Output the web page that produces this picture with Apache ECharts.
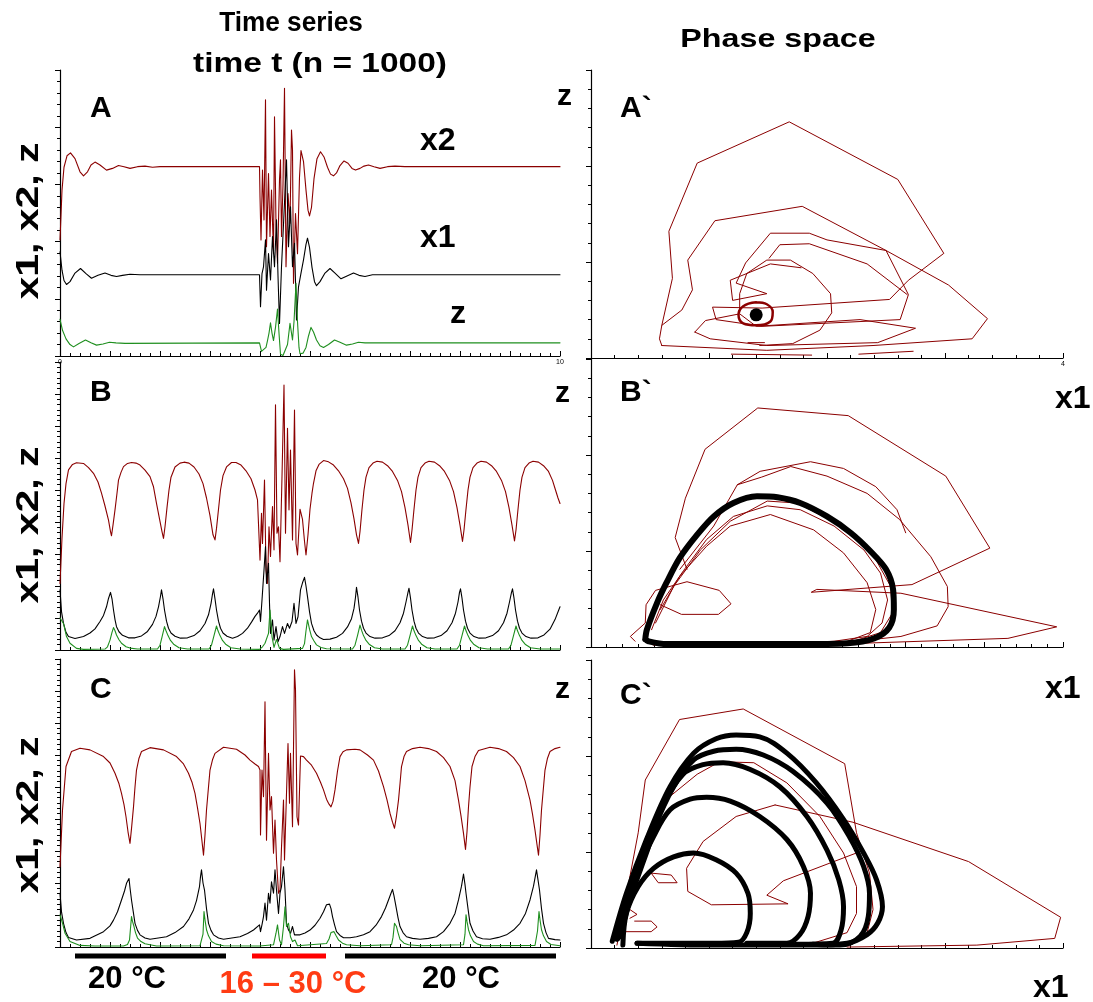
<!DOCTYPE html>
<html><head><meta charset="utf-8">
<script src="https://cdn.jsdelivr.net/npm/echarts/dist/echarts.min.js"></script>
<style>html,body{margin:0;padding:0;background:#fff}#c{width:1093px;height:1002px}</style>
</head><body><div id="c"></div>
<script>
// ---------- Time series (t, value) ----------
const A_x2 = [[0,2.03],[4,2.9],[8,3.3],[14,3.5],[21,3.55],[30,3.45],[40,3.22],[47,3.15],[55,3.22],[62,3.34],[70,3.39],[80,3.34],[93,3.25],[105,3.28],[117,3.33],[128,3.31],[140,3.28],[155,3.31],[170,3.32],[185,3.30],[200,3.31],[399,3.31],
[400,2.79],[402,2.03],[405,3.25],[408,2.38],[411,4.48],[413,1.91],[417,3.19],[420,2.09],[423,2.90],[427,1.79],[429,4.18],[432,2.3],[435,1.62],[439,3.08],[441,3.43],[443,2.09],[446,3.0],[449,4.68],[452,1.56],[456,2.84],[460,2.32],[463,3.95],[465,3.6],[467,1.27],[471,2.49],[475,1.79],[479,3.13],[482,3.59],[487,3.4],[492,2.9],[496,2.55],[499,2.45],[503,2.6],[508,3.1],[514,3.45],[521,3.57],[528,3.48],[535,3.3],[541,3.18],[547,3.15],[553,3.2],[560,3.33],[568,3.41],[576,3.37],[584,3.28],[591,3.25],[600,3.28],[608,3.32],[617,3.34],[628,3.31],[640,3.28],[655,3.31],[670,3.32],[690,3.31],[1000,3.31]];
const A_x1 = [[0,1.82],[4,1.5],[8,1.32],[13,1.25],[20,1.3],[30,1.45],[41,1.53],[52,1.44],[63,1.36],[76,1.41],[90,1.45],[102,1.41],[113,1.39],[125,1.41],[140,1.43],[160,1.42],[399,1.42],
[401,0.86],[404,1.44],[407,1.56],[411,2.03],[413,1.15],[417,1.79],[421,1.33],[425,2.09],[429,1.56],[433,2.38],[436,1.4],[439,0.57],[443,1.56],[448,2.49],[453,3.43],[457,1.91],[461,2.61],[465,1.56],[469,1.97],[473,0.63],[477,1.21],[482,1.45],[487,1.68],[492,1.95],[495,2.06],[499,1.9],[504,1.55],[509,1.3],[513,1.23],[520,1.3],[530,1.45],[540,1.53],[550,1.45],[562,1.35],[574,1.4],[587,1.45],[598,1.41],[610,1.39],[625,1.42],[1000,1.42]];
const A_z = [[0,0.64],[5,0.45],[12,0.3],[20,0.2],[27,0.16],[38,0.22],[51,0.28],[62,0.23],[73,0.19],[86,0.21],[99,0.24],[112,0.23],[130,0.22],[399,0.23],
[403,0.08],[407,0.06],[412,0.15],[415,0.27],[418,0.4],[421,0.58],[424,0.4],[427,0.27],[431,0.5],[435,0.82],[438,0.4],[441,0.03],[446,0.01],[450,0.04],[455,0.2],[460,0.57],[463,0.4],[465,0.28],[468,0.6],[472,1.27],[475,0.6],[478,0.15],[480,0.04],[486,0.05],[492,0.15],[497,0.35],[502,0.5],[507,0.42],[513,0.28],[520,0.18],[527,0.15],[537,0.2],[549,0.28],[560,0.24],[573,0.19],[585,0.21],[597,0.24],[610,0.23],[1000,0.23]];

const B_x2 = [[0,2.08],[4,3.5],[8,4.58],[12,5.2],[17,5.63],[25,5.8],[33,5.85],[47,5.83],[57,5.7],[67,5.52],[76,5.25],[83,4.90],[90,4.5],[97,4.06],[101,3.7],[103,3.57],[106,3.9],[110,4.38],[114,4.9],[117,5.31],[122,5.55],[127,5.73],[135,5.83],[143,5.86],[152,5.84],[160,5.78],[170,5.62],[180,5.42],[187,5.1],[193,4.58],[199,4.1],[204,3.7],[207,3.49],[210,3.85],[214,4.45],[218,5.0],[222,5.4],[230,5.72],[240,5.84],[248,5.87],[258,5.84],[268,5.72],[278,5.5],[286,5.2],[293,4.75],[300,4.2],[306,3.6],[310,3.44],[313,3.8],[317,4.4],[321,5.0],[326,5.45],[333,5.72],[343,5.86],[352,5.86],[362,5.78],[372,5.6],[382,5.35],[390,5.0],[395,4.69],
[400,2.81],[403,4.27],[405,3.33],[409,5.31],[412,2.5],[415,2.08],[418,3.85],[421,2.92],[425,4.48],[428,3.13],[431,7.66],[434,3.65],[437,3.85],[440,2.76],[444,5.42],[448,8.28],[451,3.65],[455,6.93],[458,4.38],[461,6.25],[465,3.44],[469,7.5],[472,3.33],[475,2.97],[480,4.40],[485,4.08],[489,3.4],[492,2.97],[496,3.6],[500,4.4],[504,4.9],[507,5.21],[512,5.6],[518,5.8],[527,5.92],[537,5.88],[547,5.78],[557,5.6],[567,5.35],[575,5.05],[582,4.6],[588,4.1],[593,3.6],[597,3.33],[600,3.7],[604,4.4],[608,5.0],[612,5.4],[618,5.7],[626,5.84],[634,5.9],[645,5.87],[655,5.76],[665,5.58],[675,5.3],[683,4.95],[690,4.45],[696,3.9],[701,3.36],[704,3.75],[708,4.4],[712,5.0],[716,5.4],[722,5.7],[730,5.84],[738,5.9],[749,5.87],[759,5.76],[769,5.58],[779,5.3],[787,4.95],[794,4.45],[800,3.9],[805,3.39],[808,3.75],[812,4.4],[816,5.0],[820,5.4],[826,5.7],[834,5.84],[842,5.9],[853,5.87],[863,5.76],[873,5.58],[883,5.3],[891,4.95],[898,4.45],[904,3.9],[909,3.41],[912,3.75],[916,4.4],[920,5.0],[924,5.4],[930,5.7],[938,5.84],[946,5.9],[957,5.87],[967,5.76],[977,5.58],[985,5.3],[991,5.0],[996,4.75],[1000,4.58]];
const B_x1 = [[0,1.88],[3,1.2],[7,0.83],[12,0.55],[17,0.42],[30,0.36],[47,0.42],[60,0.53],[70,0.66],[80,0.89],[87,1.08],[93,1.35],[97,1.61],[101,1.80],[104,1.6],[107,1.25],[110,0.95],[113,0.73],[118,0.57],[125,0.46],[137,0.38],[150,0.38],[163,0.44],[175,0.58],[185,0.8],[192,1.05],[197,1.35],[201,1.68],[203,1.88],[206,1.6],[209,1.25],[213,0.9],[217,0.68],[222,0.53],[230,0.43],[241,0.37],[255,0.38],[268,0.45],[280,0.6],[290,0.83],[297,1.1],[302,1.45],[305,1.75],[307,1.91],[310,1.6],[313,1.25],[317,0.9],[321,0.68],[326,0.53],[334,0.43],[345,0.37],[355,0.42],[365,0.52],[375,0.68],[383,0.87],[390,1.05],[395,1.15],[399,1.25],
[401,0.89],[404,1.56],[408,2.5],[411,3.23],[413,2.08],[417,2.71],[419,1.46],[421,0.52],[425,0.94],[428,0.31],[432,0.73],[436,0.26],[440,0.42],[445,0.73],[449,0.52],[455,0.83],[459,0.68],[464,0.89],[468,1.46],[472,0.83],[476,1.04],[481,1.88],[485,2.1],[489,2.27],[492,2.0],[495,1.67],[499,1.2],[503,0.83],[508,0.6],[513,0.47],[520,0.38],[527,0.33],[540,0.34],[553,0.4],[565,0.52],[575,0.72],[583,0.98],[588,1.3],[591,1.65],[593,1.96],[596,1.65],[599,1.25],[603,0.9],[607,0.68],[612,0.53],[620,0.42],[630,0.37],[645,0.38],[658,0.45],[670,0.6],[680,0.85],[687,1.15],[692,1.5],[696,1.8],[698,1.93],[701,1.62],[704,1.25],[708,0.9],[712,0.68],[717,0.53],[725,0.42],[735,0.37],[749,0.38],[762,0.45],[774,0.6],[784,0.85],[791,1.15],[796,1.5],[799,1.8],[801,1.91],[804,1.62],[807,1.25],[811,0.9],[815,0.68],[820,0.53],[828,0.42],[838,0.37],[852,0.38],[865,0.45],[877,0.6],[887,0.85],[894,1.15],[899,1.5],[903,1.8],[905,1.91],[908,1.62],[911,1.25],[915,0.9],[919,0.68],[924,0.53],[932,0.42],[942,0.37],[956,0.38],[968,0.47],[980,0.65],[990,0.95],[1000,1.35]];
const B_z = [[0,1.0],[2,0.99],[7,0.83],[13,0.42],[20,0.21],[33,0.05],[47,0.02],[90,0.03],[95,0.1],[100,0.31],[104,0.55],[107,0.70],[110,0.6],[113,0.47],[118,0.32],[123,0.21],[132,0.1],[140,0.06],[155,0.03],[195,0.03],[200,0.15],[204,0.4],[209,0.73],[212,0.6],[216,0.45],[221,0.3],[228,0.17],[238,0.07],[255,0.03],[298,0.03],[303,0.15],[308,0.45],[313,0.75],[316,0.6],[320,0.45],[325,0.3],[332,0.17],[342,0.07],[360,0.03],[399,0.02],
[405,0.1],[410,0.21],[417,0.52],[420,1.25],[424,0.42],[428,0.08],[433,0.33],[439,0.05],[447,0.02],[485,0.05],[489,0.2],[492,0.6],[495,0.94],[499,0.65],[503,0.42],[508,0.28],[513,0.16],[522,0.08],[533,0.04],[585,0.03],[590,0.15],[595,0.45],[600,0.78],[603,0.62],[607,0.45],[612,0.3],[619,0.17],[629,0.07],[645,0.03],[690,0.03],[695,0.15],[700,0.45],[705,0.75],[708,0.6],[712,0.45],[717,0.3],[724,0.17],[734,0.07],[750,0.03],[794,0.03],[799,0.15],[804,0.45],[809,0.75],[812,0.6],[816,0.45],[821,0.3],[828,0.17],[838,0.07],[855,0.03],[897,0.03],[902,0.15],[907,0.45],[912,0.75],[915,0.6],[919,0.45],[924,0.3],[931,0.17],[941,0.07],[960,0.03],[1000,0.03]];

const C_x2 = [[0,2.51],[5,4.28],[12,5.64],[23,6.11],[40,6.21],[60,6.16],[87,5.95],[100,5.75],[110,5.43],[118,5.1],[123,4.80],[128,4.45],[132,4.07],[136,3.6],[140,3.24],[143,3.7],[147,4.38],[150,5.0],[153,5.53],[158,5.9],[163,6.11],[180,6.23],[207,6.16],[233,5.95],[247,5.72],[257,5.43],[264,5.15],[270,4.80],[275,4.35],[280,3.86],[284,3.3],[287,2.87],[290,3.5],[293,4.28],[297,5.0],[300,5.53],[305,5.85],[310,6.05],[327,6.24],[353,6.18],[370,6.0],[380,5.84],[390,5.72],[397,5.64],
[400,5.53],[401,3.5],[404,5.53],[407,4.7],[410,7.66],[413,3.34],[417,6.05],[420,4.28],[423,4.70],[427,2.93],[430,3.97],[433,2.72],[437,1.68],[440,1.78],[443,3.12],[447,4.59],[449,2.72],[453,4.80],[456,6.36],[459,4.49],[461,6.05],[465,3.76],[469,8.66],[471,8.03],[474,4.07],[477,3.81],[481,5.97],[487,5.95],[493,5.84],[503,5.68],[513,5.43],[521,5.15],[527,4.91],[533,4.62],[537,4.49],[542,4.38],[546,4.55],[550,4.91],[555,5.5],[560,5.95],[566,6.1],[573,6.16],[590,6.18],[600,6.16],[615,6.0],[627,5.84],[637,5.5],[647,5.01],[654,4.6],[660,4.18],[665,3.9],[669,3.71],[673,4.1],[677,4.59],[680,5.1],[683,5.64],[688,5.95],[693,6.11],[705,6.2],[720,6.24],[737,6.2],[753,6.11],[767,5.92],[780,5.64],[790,5.2],[797,4.59],[802,4.1],[807,3.55],[811,3.05],[814,3.6],[817,4.38],[820,5.0],[824,5.64],[830,5.95],[837,6.14],[860,6.24],[877,6.2],[893,6.11],[907,5.92],[920,5.64],[930,5.2],[940,4.59],[945,4.15],[950,3.65],[954,3.2],[957,2.87],[960,3.5],[963,4.28],[967,5.0],[970,5.53],[975,5.9],[980,6.11],[990,6.2],[1000,6.24]];
const C_x1 = [[0,1.68],[3,1.1],[7,0.74],[12,0.45],[17,0.30],[33,0.22],[60,0.27],[87,0.48],[100,0.66],[107,0.84],[115,1.1],[123,1.47],[129,1.75],[133,1.99],[138,2.14],[140,1.85],[143,1.47],[147,1.05],[150,0.74],[155,0.52],[160,0.38],[170,0.28],[180,0.24],[213,0.32],[230,0.45],[247,0.64],[258,0.88],[267,1.16],[273,1.45],[279,1.89],[281,2.2],[283,2.41],[286,2.0],[289,1.78],[293,1.2],[297,0.74],[302,0.52],[307,0.38],[317,0.28],[327,0.24],[360,0.32],[375,0.42],[387,0.53],[399,0.69],
[401,0.48],[404,0.7],[407,0.95],[410,1.37],[413,0.84],[417,1.68],[420,1.37],[423,2.04],[427,1.68],[430,2.41],[433,1.78],[437,1.05],[440,1.68],[443,1.89],[447,2.51],[450,1.78],[453,0.74],[457,0.53],[461,0.43],[465,0.64],[469,0.38],[473,0.32],[480,0.38],[490,0.44],[500,0.53],[510,0.68],[520,0.90],[527,1.1],[533,1.32],[539,1.34],[542,1.2],[545,0.95],[549,0.7],[553,0.48],[560,0.36],[567,0.29],[580,0.29],[593,0.32],[607,0.38],[620,0.48],[632,0.68],[643,0.95],[651,1.22],[657,1.47],[662,1.68],[665,1.80],[668,1.6],[672,1.26],[676,0.92],[680,0.64],[686,0.45],[693,0.32],[705,0.27],[720,0.24],[737,0.27],[753,0.32],[767,0.48],[780,0.74],[790,1.05],[797,1.47],[803,1.9],[807,2.28],[810,1.95],[812,1.68],[816,1.2],[820,0.74],[826,0.5],[833,0.32],[845,0.26],[860,0.24],[877,0.3],[893,0.38],[907,0.53],[920,0.74],[931,1.05],[940,1.47],[947,1.9],[953,2.41],[956,2.1],[959,1.78],[963,1.2],[967,0.74],[972,0.45],[977,0.27],[990,0.23],[1000,0.22]];
const C_z = [[0,1.0],[2,1.0],[5,0.75],[10,0.43],[20,0.17],[40,0.05],[70,0.03],[127,0.03],[135,0.08],[139,0.22],[143,0.95],[145,0.8],[148,0.64],[151,0.45],[155,0.28],[162,0.17],[170,0.10],[193,0.03],[280,0.04],[283,0.07],[286,0.4],[288,1.11],[290,0.85],[293,0.54],[297,0.35],[303,0.17],[312,0.09],[327,0.04],[399,0.03],
[427,0.07],[432,0.43],[435,0.69],[439,0.22],[443,0.07],[447,0.64],[450,1.26],[453,0.64],[457,0.74],[461,0.32],[465,0.17],[470,0.22],[475,0.04],[533,0.11],[538,0.25],[542,0.45],[548,0.48],[552,0.36],[557,0.22],[565,0.12],[573,0.07],[600,0.04],[663,0.07],[666,0.3],[669,0.74],[673,0.64],[676,0.45],[680,0.24],[688,0.12],[697,0.07],[720,0.04],[807,0.07],[810,0.4],[812,1.01],[814,0.8],[817,0.54],[821,0.35],[827,0.17],[835,0.09],[847,0.04],[950,0.05],[953,0.07],[955,0.5],[958,1.11],[960,0.85],[963,0.54],[967,0.35],[973,0.17],[982,0.08],[1000,0.04]];

// ---------- Phase space (x1, z) ----------
const PA_outer = [[0.60,0.13],[0.58,0.20],[0.60,0.34],[0.69,0.83],[0.66,1.32],[0.90,2.03],[1.68,2.46],[2.60,1.86],[2.99,1.09],[2.69,0.81],[2.53,0.61],[1.45,0.52],[1.03,0.53],[1.06,0.40],[1.45,0.33],[2.62,0.40],[2.69,0.66],[2.50,1.12],[1.79,1.58],[1.05,1.43],[0.82,1.02],[0.86,0.71],[0.77,0.50],[0.60,0.34]];
const PA_second = [[0.60,0.13],[1.49,0.08],[2.39,0.13],[3.23,0.20],[3.36,0.41],[3.03,0.76],[2.50,1.12],[2.00,1.23],[1.85,1.30],[1.52,1.30],[1.31,0.99],[1.23,0.78],[1.49,0.67],[1.20,0.60],[1.18,0.81],[1.52,0.98],[1.78,0.94]];
const PA_low = [[0.88,0.27],[0.97,0.39],[1.26,0.46],[1.40,0.33],[2.28,0.40],[2.75,0.31],[2.43,0.16],[1.49,0.13],[1.01,0.20],[0.88,0.27]];
const PA_spiral = [[1.26,0.47],[1.26,0.67],[1.32,0.88],[1.49,1.02],[1.69,1.02],[1.88,0.88],[2.03,0.67],[2.04,0.47],[1.94,0.29],[1.71,0.15],[1.43,0.13]];
const PA_inner = [[1.51,1.04],[1.60,1.18],[1.85,1.19],[2.34,0.98],[2.68,0.66]];
const PA_short1 = [[1.19,0.04],[1.87,0.03]];
const PA_short2 = [[2.27,0.04],[2.73,0.07]];
const PA_short3 = [[1.33,0.16],[1.47,0.16]];
const PA_ring = [[1.40,0.58],[1.49,0.56],[1.54,0.48],[1.52,0.38],[1.40,0.34],[1.29,0.36],[1.25,0.45],[1.29,0.54],[1.40,0.58]];
const PA_fixed = [[1.40,0.45]];

const PB_cycle = [[0.69,0.08],[0.71,0.18],[0.84,0.46],[0.96,0.67],[1.13,0.93],[1.35,1.17],[1.56,1.36],[1.81,1.50],[2.11,1.57],[2.37,1.56],[2.66,1.50],[3.00,1.36],[3.30,1.19],[3.55,1.00],[3.75,0.81],[3.84,0.60],[3.85,0.39],[3.79,0.20],[3.60,0.09],[3.26,0.04],[2.62,0.03],[1.77,0.03],[0.96,0.03],[0.73,0.06],[0.69,0.08]];
const PB_r1 = [[0.77,0.18],[0.92,0.49],[1.18,0.80],[1.47,1.12],[1.81,1.36],[2.24,1.47],[2.66,1.43],[3.09,1.26],[3.47,1.01],[3.68,0.77],[3.77,0.49],[3.70,0.25],[3.51,0.11],[3.09,0.06],[2.41,0.03],[1.56,0.02],[0.79,0.02]];
const PB_r2 = [[0.88,0.39],[1.13,0.74],[1.47,1.05],[1.77,1.26],[2.28,1.38],[2.83,1.22],[3.21,0.98],[3.51,0.67],[3.62,0.39],[3.55,0.15],[3.26,0.06]];
const PB_r3 = [[0.82,0.25],[1.05,0.63],[1.39,1.01],[1.77,1.31],[2.24,1.52],[2.62,1.50],[3.17,1.27],[3.60,0.94],[3.81,0.63],[3.83,0.35],[3.68,0.15],[3.34,0.06],[2.62,0.02],[1.13,0.01]];
const PB_r4 = [[1.13,0.81],[1.56,1.26],[1.86,1.69],[2.15,1.83],[2.79,1.93],[3.21,1.86],[3.62,1.67],[3.89,1.43],[4.00,1.19]];
const PB_r5 = [[1.86,1.69],[2.17,1.77],[2.54,1.88],[3.00,1.78],[3.51,1.60],[3.92,1.33],[4.32,0.94],[4.53,0.63],[4.54,0.42],[4.40,0.22],[3.94,0.11],[3.38,0.06]];
const PB_outer = [[1.22,0.81],[1.07,1.14],[1.20,1.55],[1.45,2.06],[2.12,2.49],[3.27,2.41],[4.51,1.78],[5.07,1.03],[4.08,0.65],[2.80,0.57],[2.87,0.60],[3.94,0.56],[5.92,0.21],[5.30,0.09],[3.47,0.04]];
const PB_left = [[0.56,0.06],[0.50,0.11],[0.69,0.25],[0.70,0.44],[0.82,0.59],[1.22,0.68],[1.63,0.59],[1.78,0.45],[1.62,0.34],[1.15,0.34],[0.88,0.44]];

const PC_a = [[0.27,0.03],[0.30,0.36],[0.40,0.64],[0.53,0.83],[0.70,0.95],[0.87,0.99],[1.06,0.92],[1.23,0.78],[1.33,0.57],[1.35,0.36],[1.32,0.16],[1.25,0.06],[1.04,0.05],[0.39,0.05]];
const PC_b = [[0.22,0.09],[0.27,0.36],[0.39,0.78],[0.53,1.16],[0.67,1.44],[0.84,1.55],[0.98,1.57],[1.18,1.53],[1.43,1.37],[1.66,1.13],[1.80,0.85],[1.86,0.57],[1.84,0.33],[1.77,0.14],[1.66,0.05],[1.32,0.05]];
const PC_c = [[0.25,0.12],[0.33,0.50],[0.47,0.99],[0.61,1.48],[0.78,1.81],[0.95,1.91],[1.12,1.93],[1.35,1.86],[1.60,1.68],[1.83,1.37],[2.00,1.02],[2.10,0.71],[2.14,0.43],[2.12,0.19],[2.05,0.05],[1.74,0.04]];
const PC_d = [[0.23,0.10],[0.36,0.64],[0.53,1.23],[0.70,1.68],[0.87,1.96],[1.04,2.05],[1.23,2.07],[1.46,2.01],[1.71,1.84],[2.00,1.51],[2.19,1.16],[2.31,0.85],[2.36,0.57],[2.35,0.33],[2.28,0.12],[2.11,0.03],[1.88,0.04]];
const PC_e = [[0.18,0.07],[0.30,0.57],[0.47,1.13],[0.67,1.68],[0.87,2.03],[1.06,2.18],[1.23,2.22],[1.43,2.20],[1.66,2.03],[1.91,1.72],[2.14,1.34],[2.31,0.99],[2.42,0.71],[2.47,0.43],[2.43,0.26],[2.34,0.14],[2.17,0.05],[1.88,0.03],[1.04,0.03],[0.39,0.05]];
const PC_r_outer = [[0.22,0.03],[0.40,1.20],[0.46,1.75],[0.75,2.38],[1.29,2.49],[2.15,1.92],[2.25,1.20],[2.36,0.78],[2.39,0.40],[2.34,0.16]];
const PC_r_long = [[1.56,1.49],[2.22,1.31],[3.20,0.90],[3.98,0.32],[3.93,0.10],[3.27,0.03],[2.17,0.01]];
const PC_r_inner = [[1.56,1.49],[1.23,1.37],[0.95,1.11],[0.81,0.83],[0.82,0.59],[1.02,0.45],[1.67,0.46],[1.49,0.55],[1.63,0.70],[2.25,0.99]];
const PC_r_mid = [[0.42,0.92],[0.64,1.55],[0.90,1.81],[1.09,1.94],[1.38,1.93],[1.66,1.72],[1.94,1.37],[2.14,0.99],[2.25,0.64],[2.25,0.36],[2.17,0.16],[1.88,0.05]];
const PC_r_bit1 = [[0.51,0.78],[0.57,0.68],[0.73,0.68],[0.68,0.76],[0.51,0.78]];
const PC_r_bit2 = [[0.33,0.31],[0.39,0.35],[0.33,0.40]];
const PC_r_bit3 = [[0.30,0.17],[0.51,0.17],[0.56,0.22],[0.51,0.28],[0.37,0.28]];

// ---------- Temperature regimes ----------
const tempStart = [30, 384, 570];
const tempEnd = [332, 532, 992];
const tempLabels = ['20 °C', '16 – 30 °C', '20 °C'];

// ---------- Build chart ----------
const RED = '#8b0000', BLACK = '#000000', GREEN = '#1f8f1f';
const FONT = '"Liberation Sans", Arial, sans-serif';
const grids = [
  {left:60, top:70, width:500, height:286},
  {left:60, top:362, width:500, height:288},
  {left:60, top:659, width:500, height:288},
  {left:591, top:70, width:472, height:288},
  {left:591, top:359, width:472, height:288},
  {left:591, top:660, width:472, height:288},
  {left:60, top:951, width:500, height:10}
].map(g => Object.assign({outerBoundsMode:'none', containLabel:false}, g));

function xAx(gi, max, interval, minorSplit, labelFn) {
  return {type:'value', gridIndex:gi, min:0, max:max, interval:interval,
    axisLine:{onZero:false, lineStyle:{color:'#000', width:1.2}},
    axisTick:{inside:true, length:5, lineStyle:{color:'#000'}},
    minorTick:{show:true, splitNumber:minorSplit, length:3, lineStyle:{color:'#000'}},
    splitLine:{show:false}, minorSplitLine:{show:false},
    axisLabel: labelFn ? {show:true, fontSize:7, margin:3, color:'#000', formatter:labelFn} : {show:false}};
}
function yAx(gi, max, minorSplit) {
  return {type:'value', gridIndex:gi, min:0, max:max, interval:1,
    axisLine:{onZero:false, lineStyle:{color:'#000', width:1.2}},
    axisTick:{inside:false, length:5, lineStyle:{color:'#000'}},
    minorTick:{show:true, splitNumber:minorSplit, length:3, lineStyle:{color:'#000'}},
    splitLine:{show:false}, minorSplitLine:{show:false}, axisLabel:{show:false}};
}
const xAxis = [
  xAx(0, 1000, 100, 5, v => v === 0 ? '0' : (v === 1000 ? '10' : '')),
  xAx(1, 1000, 100, 5), xAx(2, 1000, 100, 5),
  xAx(3, 4, 1, 5, v => v === 4 ? '4' : ''),
  xAx(4, 6, 1, 5), xAx(5, 4, 1, 5),
  {type:'value', gridIndex:6, min:0, max:1000, show:false}
];
const yAxis = [
  yAx(0, 5, 5), yAx(1, 9, 6), yAx(2, 9, 6),
  yAx(3, 3, 5), yAx(4, 3, 5), yAx(5, 3, 5),
  {type:'value', gridIndex:6, min:-1, max:1, show:false}
];

const series = [];
function line(idx, data, color, width, smooth) {
  series.push({type:'line', xAxisIndex:idx, yAxisIndex:idx, data:data, showSymbol:false, symbol:'none', smooth: smooth || false,
    lineStyle:{color:color, width:width || 1, join:'round', cap:'round'}, silent:true, z: width > 2 ? 3 : 2});
}
[[A_x2,A_x1,A_z],[B_x2,B_x1,B_z],[C_x2,C_x1,C_z]].forEach((s, i) => {
  line(i, s[0], RED, 1.1); line(i, s[1], BLACK, 1.1); line(i, s[2], GREEN, 1.1);
});
[PA_outer, PA_second, PA_low, PA_spiral, PA_inner, PA_short1, PA_short2, PA_short3].forEach(d => line(3, d, RED, 1));
line(3, PA_ring, RED, 2.5, 0.4);
series.push({type:'scatter', xAxisIndex:3, yAxisIndex:3, data:PA_fixed, symbolSize:13, itemStyle:{color:'#000', opacity:1}, z:5});
[PB_r1, PB_r2, PB_r3, PB_r4, PB_r5, PB_outer, PB_left].forEach(d => line(4, d, RED, 1));
line(4, PB_cycle, BLACK, 6, 0.3);
[PC_r_outer, PC_r_long, PC_r_inner, PC_r_mid, PC_r_bit1, PC_r_bit2, PC_r_bit3].forEach(d => line(5, d, RED, 1));
[PC_a, PC_b, PC_c, PC_d, PC_e].forEach(d => line(5, d, BLACK, 5, 0.35));
// temperature bars
tempStart.forEach((s, i) => {
  series.push({type:'line', xAxisIndex:6, yAxisIndex:6, data:[[s,0],[tempEnd[i],0]], showSymbol:false, symbol:'none',
    lineStyle:{color: i === 1 ? '#ff0000' : '#000', width:5, cap:'butt'}, silent:true});
});

function txt(x, y, t, size, opts) {
  opts = opts || {};
  const el = {type:'text', x:x, y:y, style:{text:t, font:'bold ' + size + 'px ' + FONT, fill:opts.fill || '#000',
    textAlign:opts.align || 'left', textVerticalAlign:'middle'}};
  if (opts.rot) el.rotation = opts.rot;
  if (opts.sx) el.scaleX = opts.sx;
  return el;
}
const graphic = [
  txt(291, 24, 'Time series', 27, {align:'center', sx:0.97}),
  txt(320, 65, 'time t (n = 1000)', 27, {align:'center', sx:1.24}),
  txt(778, 40, 'Phase space', 26, {align:'center', sx:1.24}),
  txt(29, 221, 'x1, x2, z', 32, {align:'center', rot:Math.PI/2, sx:1.28}),
  txt(29, 525, 'x1, x2, z', 32, {align:'center', rot:Math.PI/2, sx:1.28}),
  txt(29, 815, 'x1, x2, z', 32, {align:'center', rot:Math.PI/2, sx:1.28}),
  txt(90, 109, 'A', 30), txt(90, 393, 'B', 30), txt(90, 690, 'C', 30),
  txt(420, 141, 'x2', 32), txt(420, 238, 'x1', 32), txt(450, 314, 'z', 32),
  txt(557, 97, 'z', 30), txt(555, 394, 'z', 30), txt(555, 690, 'z', 30),
  txt(620, 109, 'A`', 30), txt(620, 393, 'B`', 30), txt(620, 696, 'C`', 30),
  txt(1055, 399, 'x1', 32), txt(1045, 689, 'x1', 32), txt(1033, 988, 'x1', 32),
  txt(127, 979, tempLabels[0], 31, {align:'center'}),
  txt(293, 984, tempLabels[1], 31, {align:'center', fill:'#ff3c14'}),
  txt(461, 979, tempLabels[2], 31, {align:'center'})
];

const chart = echarts.init(document.getElementById('c'), null, {renderer:'canvas'});
chart.setOption({animation:false, backgroundColor:'#fff', grid:grids, xAxis:xAxis, yAxis:yAxis, series:series, graphic:graphic});
</script></body></html>
